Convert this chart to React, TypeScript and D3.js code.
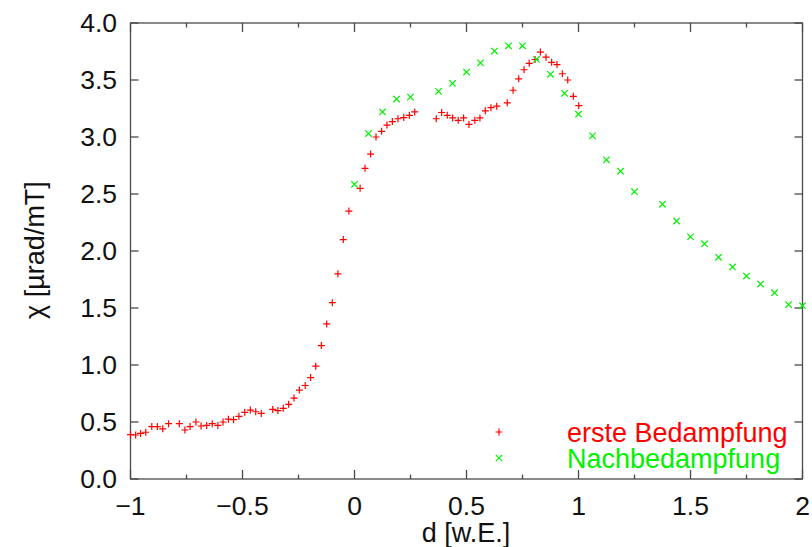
import React from "react";
import * as d3 from "d3";

const redX = [-1.0,-0.977,-0.955,-0.932,-0.905,-0.88,-0.856,-0.83,-0.782,-0.757,-0.734,-0.708,-0.685,-0.66,-0.635,-0.61,-0.587,-0.563,-0.54,-0.516,-0.49,-0.465,-0.441,-0.416,-0.365,-0.342,-0.318,-0.294,-0.27,-0.246,-0.22,-0.196,-0.173,-0.148,-0.124,-0.099,-0.074,-0.05,-0.025,0.025,0.047,0.072,0.096,0.121,0.145,0.169,0.194,0.22,0.245,0.269,0.365,0.389,0.414,0.438,0.463,0.487,0.511,0.537,0.56,0.584,0.609,0.635,0.682,0.708,0.733,0.757,0.78,0.806,0.83,0.855,0.88,0.904,0.928,0.952,0.977,1.001];
const redY = [0.39,0.386,0.40,0.41,0.46,0.46,0.44,0.485,0.485,0.43,0.46,0.50,0.465,0.47,0.485,0.47,0.50,0.525,0.52,0.55,0.585,0.605,0.59,0.575,0.61,0.60,0.62,0.655,0.71,0.78,0.82,0.89,0.99,1.17,1.36,1.547,1.80,2.10,2.35,2.55,2.725,2.85,3.00,3.05,3.105,3.135,3.16,3.17,3.19,3.22,3.16,3.215,3.19,3.167,3.146,3.167,3.11,3.146,3.167,3.23,3.257,3.27,3.30,3.41,3.51,3.59,3.646,3.68,3.745,3.70,3.655,3.635,3.555,3.50,3.357,3.275];

const greenX = [0,0.0625,0.125,0.1875,0.25,0.375,0.4375,0.5,0.5625,0.625,0.6875,0.75,0.8125,0.875,0.9375,1.0,1.0625,1.125,1.1875,1.25,1.375,1.4375,1.5,1.5625,1.625,1.6875,1.75,1.8125,1.875,1.9375,2.0];
const greenY = [2.585,3.03,3.22,3.333,3.35,3.40,3.47,3.57,3.65,3.754,3.80,3.80,3.68,3.55,3.383,3.20,3.01,2.80,2.70,2.52,2.41,2.263,2.125,2.064,1.945,1.86,1.78,1.71,1.634,1.53,1.52];

const xMajor = [-1,-0.5,0,0.5,1,1.5,2];
const xMinor = [-0.75,-0.25,0.25,0.75,1.25,1.75];
const xTickLabels = ["\u22121","\u22120.5","0","0.5","1","1.5","2"];
const yMajor = [0,0.5,1,1.5,2,2.5,3,3.5,4];
const yTickLabels = ["0.0","0.5","1.0","1.5","2.0","2.5","3.0","3.5","4.0"];
const seriesNames = ["erste Bedampfung","Nachbedampfung"];

const W = 812, H = 547;
const FONT = "'Liberation Sans', Arial, Helvetica, sans-serif";

export default function App() {
  const x = d3.scaleLinear().domain([-1, 2]).range([130.5, 802.5]);
  const y = d3.scaleLinear().domain([0, 4]).range([479, 23]);
  const axisColor = "#4a4a4a";
  const red = "#ff0000", green = "#00f000";
  const plus = (cx: number, cy: number, c: string, k: string) => (
    <path key={k} d={`M${cx-3.5},${cy}H${cx+3.5}M${cx},${cy-3.5}V${cy+3.5}`} stroke={c} strokeWidth={1.2} fill="none" />
  );
  const cross = (cx: number, cy: number, c: string, k: string) => (
    <path key={k} d={`M${cx-3.2},${cy-3.2}L${cx+3.2},${cy+3.2}M${cx-3.2},${cy+3.2}L${cx+3.2},${cy-3.2}`} stroke={c} strokeWidth={1.2} fill="none" />
  );
  const [x0, x1] = x.range();
  const [yb, yt] = y.range();
  return (
    <svg width={W} height={H} style={{ position: "absolute", left: 0, top: 0, background: "#fff" }} fontFamily={FONT}>
      <rect x={0} y={0} width={W} height={H} fill="#fff" />
      <rect x={x0} y={yt} width={x1 - x0} height={yb - yt} fill="none" stroke={axisColor} strokeWidth={1.3} />
      {xMajor.map((v, i) => (
        <g key={"xM" + i}>
          <line x1={x(v)} x2={x(v)} y1={yb} y2={yb - 9} stroke={axisColor} strokeWidth={1.3} />
          <line x1={x(v)} x2={x(v)} y1={yt} y2={yt + 9} stroke={axisColor} strokeWidth={1.3} />
          <text x={x(v)} y={515} textAnchor="middle" fontSize={26.5} fill="#111">{xTickLabels[i]}</text>
        </g>
      ))}
      {xMinor.map((v, i) => (
        <g key={"xm" + i}>
          <line x1={x(v)} x2={x(v)} y1={yb} y2={yb - 4.5} stroke={axisColor} strokeWidth={1.3} />
          <line x1={x(v)} x2={x(v)} y1={yt} y2={yt + 4.5} stroke={axisColor} strokeWidth={1.3} />
        </g>
      ))}
      {yMajor.map((v, i) => (
        <g key={"yM" + i}>
          <line x1={x0} x2={x0 + 8} y1={y(v)} y2={y(v)} stroke={axisColor} strokeWidth={1.3} />
          <line x1={x1} x2={x1 - 8} y1={y(v)} y2={y(v)} stroke={axisColor} strokeWidth={1.3} />
          <text x={117} y={y(v) + 9} textAnchor="end" fontSize={26.5} fill="#111">{yTickLabels[i]}</text>
        </g>
      ))}
      <text x={466} y={542} textAnchor="middle" fontSize={27} fill="#111">d [w.E.]</text>
      <text transform={`translate(44,250) rotate(-90)`} textAnchor="middle" fontSize={27} fill="#111">χ [µrad/mT]</text>
      {redX.map((v, i) => plus(x(v), y(redY[i]), red, "r" + i))}
      {greenX.map((v, i) => cross(x(v), y(greenY[i]), green, "g" + i))}
      {plus(499, 432, red, "lr")}
      {cross(499, 458, green, "lg")}
      <text x={567} y={442} fontSize={27} fill={red}>{seriesNames[0]}</text>
      <text x={567} y={468} fontSize={27} fill={green}>{seriesNames[1]}</text>
    </svg>
  );
}
